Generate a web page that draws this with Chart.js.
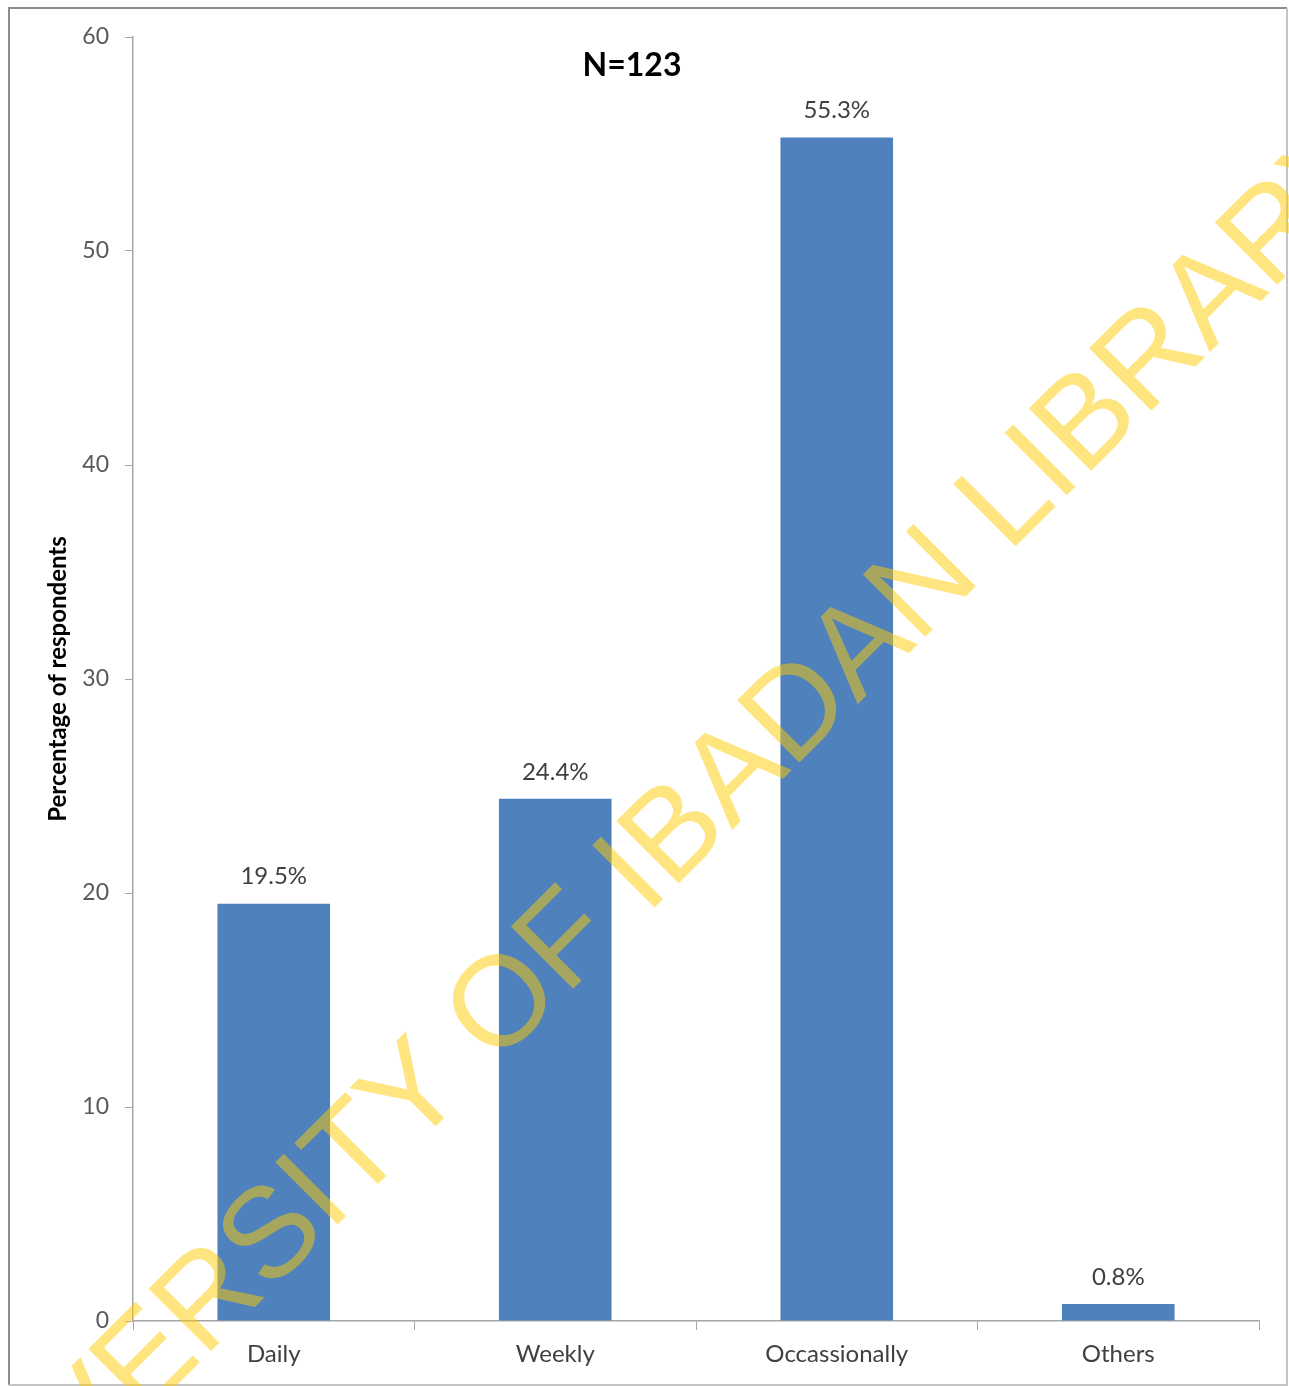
<!DOCTYPE html>
<html>
<head>
<meta charset="utf-8">
<title>Frequency of use</title>
<script src="https://cdn.jsdelivr.net/npm/chart.js@4/dist/chart.umd.min.js"></script>
<style>
    html, body { margin: 0; padding: 0; background: #fff; }
    #wrap { width: 1289px; height: 1386px; position: relative; }
</style>
</head>
<body>
<div id="wrap"><canvas id="freqChart"></canvas></div>
<script>
// 0. Data
const categories = ['Daily', 'Weekly', 'Occassionally', 'Others'];
const percentValues = [19.5, 24.4, 55.3, 0.8];
const percentLabels = ['19.5%', '24.4%', '55.3%', '0.8%'];
const yTicks = [0, 10, 20, 30, 40, 50, 60];
const sampleNote = 'N=123';
const watermarkText = 'UNIVERSITY OF IBADAN LIBRARY';

// 1. Plugin: white page + grey frame round the chart
const framePlugin = {
    id: 'frame',
    beforeDraw(chart) {
        const ctx = chart.ctx;
        ctx.save();
        ctx.fillStyle = '#ffffff';
        ctx.fillRect(0, 0, chart.width, chart.height);
        ctx.lineWidth = 2;
        ctx.strokeStyle = '#8c8c8c';
        ctx.beginPath();
        ctx.moveTo(9, 1385);
        ctx.lineTo(9, 8);
        ctx.lineTo(1287, 8);
        ctx.stroke();
        ctx.strokeStyle = '#c4c4c4';
        ctx.beginPath();
        ctx.moveTo(1287, 8);
        ctx.lineTo(1287, 1385);
        ctx.lineTo(9, 1385);
        ctx.stroke();
        ctx.restore();
    }
};

// 2. Plugin: value labels above bars + "N=123" note
const labelPlugin = {
    id: 'barLabels',
    afterDatasetsDraw(chart) {
        const ctx = chart.ctx;
        const meta = chart.getDatasetMeta(0);
        ctx.save();
        ctx.font = '24px Lato';
        ctx.fillStyle = '#404040';
        ctx.textAlign = 'center';
        ctx.textBaseline = 'middle';
        meta.data.forEach((bar, i) => {
            ctx.fillText(percentLabels[i], bar.x, bar.y - 27);
        });

        // 2.1 sample size note
        ctx.font = 'bold 32px Lato';
        ctx.fillStyle = '#000000';
        ctx.fillText(sampleNote, 632, 66);
        ctx.restore();
    }
};

// 3. Plugin: diagonal library watermark on top
const watermarkPlugin = {
    id: 'watermark',
    afterDraw(chart) {
        const ctx = chart.ctx;
        ctx.save();
        ctx.translate(-73, 1635);
        ctx.rotate(-Math.PI / 4);
        ctx.font = '128px "Liberation Sans"';
        ctx.fillStyle = 'rgba(255, 204, 0, 0.5)';
        ctx.textAlign = 'left';
        ctx.textBaseline = 'alphabetic';
        ctx.fillText(watermarkText, 0, 0);
        ctx.restore();
    }
};

// 4. Render bar chart
const ctx = document.getElementById('freqChart').getContext('2d');
new Chart(ctx, {
    type: 'bar',
    data: {
        labels: categories,
        datasets: [{
            label: 'Percentage of respondents',
            data: percentValues,
            backgroundColor: '#4F81BD',
            barPercentage: 0.4,
            categoryPercentage: 1.0
        }]
    },
    options: {
        responsive: true,
        maintainAspectRatio: false,
        animation: false,
        layout: {
            padding: { top: 37, right: 30, bottom: 0, left: 0 }
        },
        plugins: {
            legend: { display: false },
            tooltip: { enabled: false }
        },
        scales: {
            x: {
                grid: {
                    offset: true,
                    drawOnChartArea: false,
                    drawTicks: true,
                    tickLength: 9,
                    color: '#a6a6a6'
                },
                border: { color: '#a6a6a6', width: 1.5 },
                ticks: {
                    color: '#404040',
                    font: { family: 'Lato', size: 24 },
                    padding: 10,
                    maxRotation: 0
                },
                afterFit(scale) { scale.height = 65; }
            },
            y: {
                min: 0,
                max: 60,
                afterBuildTicks(scale) {
                    scale.ticks = yTicks.map(v => ({ value: v }));
                },
                grid: {
                    drawOnChartArea: false,
                    drawTicks: true,
                    tickLength: 8,
                    color: '#a6a6a6'
                },
                border: { color: '#a6a6a6', width: 1.5 },
                ticks: {
                    color: '#595959',
                    font: { family: 'Lato', size: 23 },
                    padding: 16
                },
                title: {
                    display: true,
                    text: 'Percentage of respondents',
                    color: '#000000',
                    font: { family: 'Lato', size: 24, weight: 'bold' },
                    padding: { top: 44, bottom: 0 }
                },
                afterFit(scale) { scale.width = 133; }
            }
        }
    },
    plugins: [framePlugin, labelPlugin, watermarkPlugin]
});
</script>
</body>
</html>
